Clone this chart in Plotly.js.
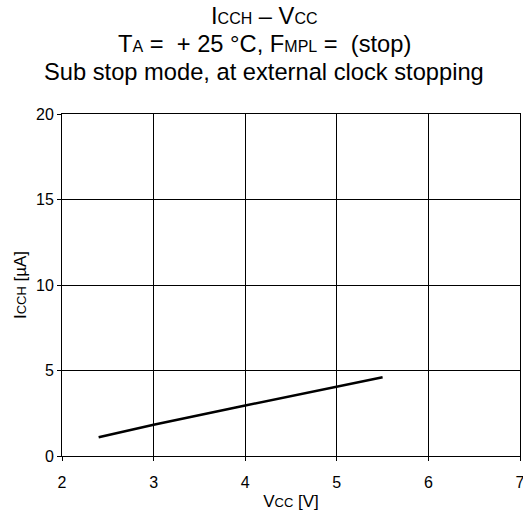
<!DOCTYPE html>
<html>
<head>
<meta charset="utf-8">
<script src="https://cdn.plot.ly/plotly-3.0.1.min.js"></script>
<style>html,body{margin:0;padding:0;background:#fff;}#chart{width:523px;height:514px;}</style>
</head>
<body>
<div id="chart"></div>
<script>
const vcc = [2.4, 3.0, 4.0, 5.0, 5.5];
const icch = [1.1, 1.83, 2.95, 4.04, 4.6];
const xTicks = [2, 3, 4, 5, 6, 7];
const yTicks = [0, 5, 10, 15, 20];

const F = 'Arial, "Liberation Sans", sans-serif';
const sm = t => '<span style="font-size:13px">' + t + '</span>';
const smT = t => '<span style="font-size:16px">' + t + '</span>';

const trace = {
  x: vcc, y: icch, type: 'scatter', mode: 'lines',
  line: {color: '#000', width: 2.5}, hoverinfo: 'skip', showlegend: false
};

function ypap(px) { return (456 - px) / 342; }
const xc = (264 - 62) / 458;

const layout = {
  width: 523, height: 514,
  margin: {l: 62, r: 3, t: 114, b: 58},
  paper_bgcolor: '#fff', plot_bgcolor: '#fff',
  font: {family: F, color: '#000'},
  showlegend: false,
  xaxis: {
    range: [2, 7], tickvals: xTicks, ticktext: xTicks.map(String),
    showgrid: true, gridcolor: '#000', gridwidth: 1,
    showline: true, linecolor: '#000', linewidth: 1, mirror: true,
    zeroline: false, ticks: 'outside', ticklen: 4, tickcolor: '#000', tickwidth: 1,
    ticklabeloverflow: 'allow', ticklabelstandoff: 8,
    tickfont: {size: 16, family: F, color: '#000'},
    title: {text: 'V' + sm('CC') + ' [V]', font: {size: 17, family: F, color: '#000'}, standoff: 4}
  },
  yaxis: {
    range: [0, 20], tickvals: yTicks, ticktext: yTicks.map(String),
    showgrid: true, gridcolor: '#000', gridwidth: 1,
    showline: true, linecolor: '#000', linewidth: 1, mirror: true,
    zeroline: false, ticks: 'outside', ticklen: 4, tickcolor: '#000', tickwidth: 1,
    tickfont: {size: 16, family: F, color: '#000'},
    title: {text: 'I' + sm('CCH') + ' [µA]', font: {size: 17, family: F, color: '#000'}, standoff: 5}
  },
  annotations: [
    {text: 'I' + smT('CCH') + ' – V' + smT('CC'), xref: 'paper', yref: 'paper', x: xc, y: ypap(16), xanchor: 'center', yanchor: 'middle', showarrow: false, font: {size: 23.7, family: F, color: '#000'}},
    {text: 'T' + smT('A') + ' =  + 25 °C, F' + smT('MPL') + ' =  (stop)', xref: 'paper', yref: 'paper', x: xc, y: ypap(44), xanchor: 'center', yanchor: 'middle', showarrow: false, font: {size: 23.7, family: F, color: '#000'}},
    {text: 'Sub stop mode, at external clock stopping', xref: 'paper', yref: 'paper', x: xc, y: ypap(72), xanchor: 'center', yanchor: 'middle', showarrow: false, font: {size: 23.7, family: F, color: '#000'}}
  ]
};

Plotly.newPlot('chart', [trace], layout, {staticPlot: true, displayModeBar: false});
</script>
</body>
</html>
